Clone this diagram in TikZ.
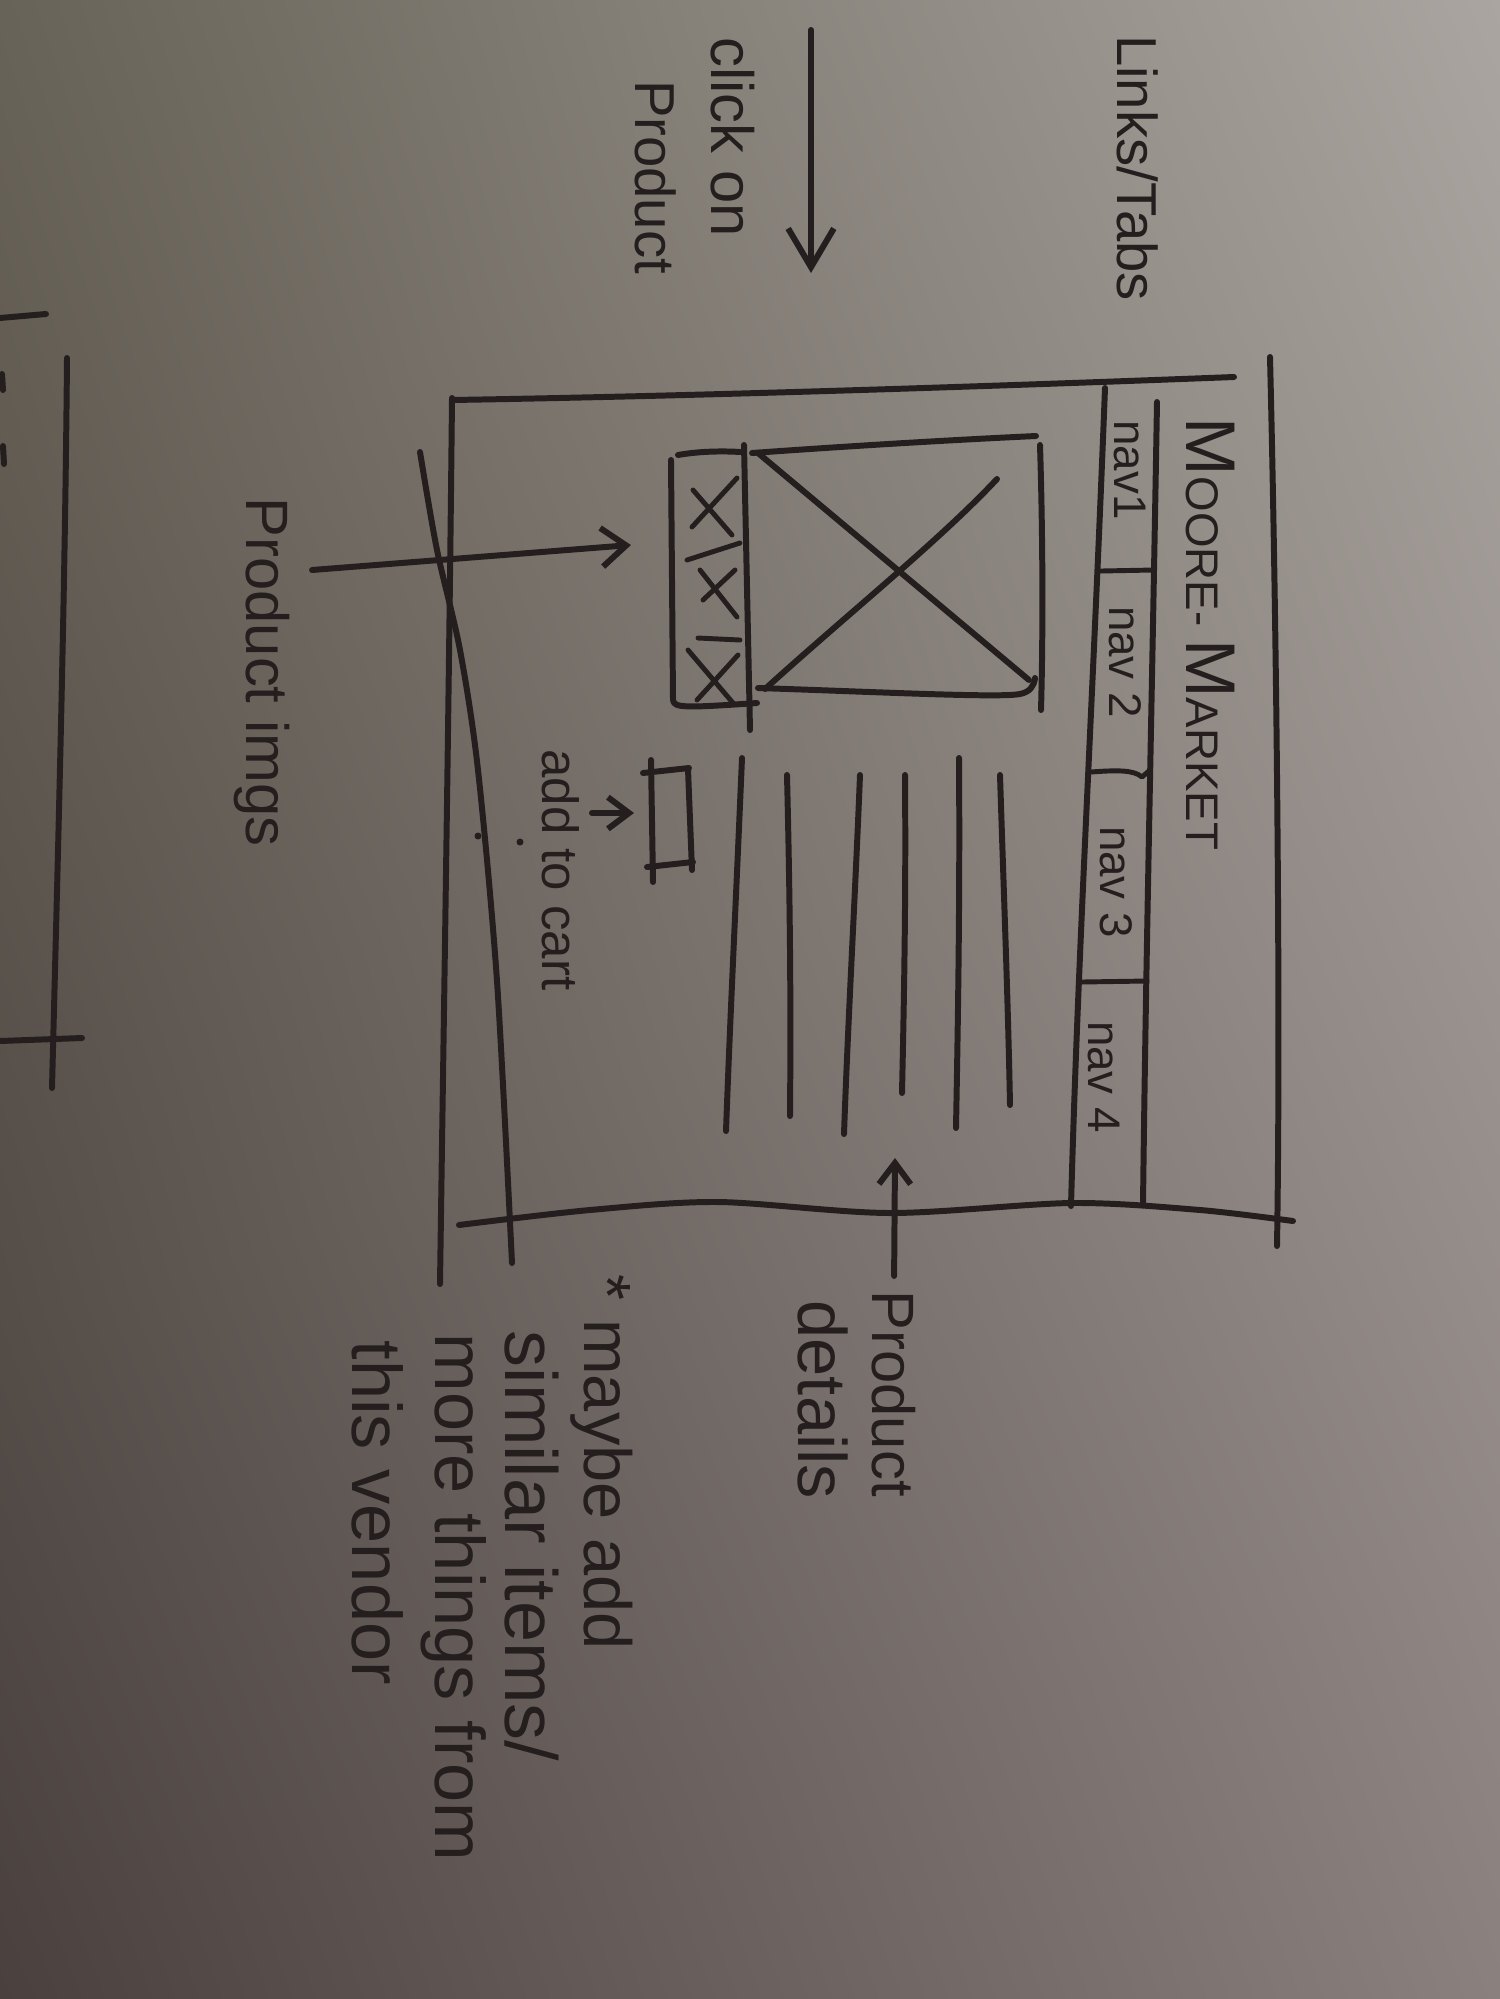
\documentclass[tikz,border=0pt]{standalone}
\usepackage{fontspec}
\setmainfont{Liberation Sans}
\usetikzlibrary{arrows.meta,shadings}
\definecolor{ink}{RGB}{36,30,30}
\definecolor{paperUL}{RGB}{104,99,88}
\definecolor{paperUR}{RGB}{170,165,160}
\definecolor{paperLR}{RGB}{138,128,126}
\definecolor{paperLL}{RGB}{74,65,63}
\newcommand{\setfs}[1]{\fontsize{#1}{#1}\selectfont}
\begin{document}
\begin{tikzpicture}[x=0.01cm,y=-0.01cm,
  pen/.style={draw=ink,line width=1.7pt,line cap=round,line join=round},
  fine/.style={pen,line width=1.4pt},
  hand/.style={text=ink,rotate=-90,inner sep=0pt},
  note/.style={hand,anchor=west},
  bigbarb/.style={-{Straight Barb[length=11pt,width=13pt]}},
  midbarb/.style={-{Straight Barb[length=7pt,width=11pt]}},
  smallbarb/.style={-{Straight Barb[length=6pt,width=9pt]}}
]
% paper
\useasboundingbox (0,0) rectangle (1500,1999);
\shade[upper left=paperUL,upper right=paperUR,lower left=paperLL,lower right=paperLR]
  (0,0) rectangle (1500,1999);

% ---- left margin: end of the previous page sketch
\draw[pen] (67,358) .. controls (65,600) and (58,850) .. (52,1088);
\draw[pen] (0,1041) -- (82,1038);
\draw[pen] (0,318) -- (46,314);
\draw[pen] (2,374) -- (3,390);
\draw[pen] (3,446) -- (4,464);

% ---- transition note
\node[hand,font=\setfs{16}] (links) at (1138,168) {Links/Tabs};
\node[hand,font=\setfs{17}] (click) at (733,137) {click on};
\node[hand,font=\setfs{16}] (clickprod) at (656,177) {Product};
\coordinate (clickfrom) at (811,30);
\coordinate (clickto) at (811,273);
\draw[pen,bigbarb] (clickfrom) -- (clickto);

% ---- page frame
\draw[pen] (1270,357) .. controls (1276,600) and (1281,1000) .. (1277,1246);
\draw[pen] (452,400) .. controls (700,396) and (1000,386) .. (1234,377);
\draw[pen] plot[smooth] coordinates {(459,1225) (590,1210) (718,1202) (890,1213) (1072,1203) (1200,1210) (1293,1221)};
\draw[pen] (452,398) .. controls (449,700) and (444,1000) .. (440,1284);
\draw[pen] plot[smooth] coordinates {(420,452) (437,550) (460,650) (478,770) (497,981) (512,1263)};

% ---- header and navigation bar
\draw[pen] (1157,402) .. controls (1152,700) and (1146,950) .. (1143,1205);
\draw[pen] (1105,388) .. controls (1093,700) and (1078,950) .. (1071,1206);
\draw[fine] (1101,571) -- (1154,570);
\draw[fine] (1091,772) .. controls (1118,770) and (1134,770) .. (1142,777) -- (1150,770);
\draw[fine] (1082,982) -- (1147,981);
\node[hand] (title) at (1210,634)
  {{\setfs{20}M}{\setfs{13}OORE- }{\setfs{20}M}{\setfs{13}ARKET}};
\node[hand,font=\setfs{13}] (nav1) at (1130,470) {nav1};
\node[hand,font=\setfs{13}] (nav2) at (1125,662) {nav 2};
\node[hand,font=\setfs{13}] (nav3) at (1116,882) {nav 3};
\node[hand,font=\setfs{13}] (nav4) at (1104,1077) {nav 4};

% ---- main product image placeholder
\draw[pen] (752,453) .. controls (850,446) and (950,440) .. (1036,436);
\draw[pen] (1040,445) .. controls (1043,540) and (1043,640) .. (1041,710);
\draw[pen] (758,688) .. controls (880,692) and (1000,698) .. (1020,694) .. controls (1030,692) and (1034,686) .. (1035,678);
\draw[pen] (744,445) -- (750,730);
\draw[pen] (758,453) -- (1029,680);
\draw[pen] (765,689) .. controls (850,612) and (940,540) .. (997,479);

% ---- thumbnail strip
\draw[pen] (678,455) .. controls (700,451) and (725,451) .. (740,452);
\draw[pen] (671,460) -- (673,700) .. controls (674,708) and (684,708) .. (757,703);
\draw[fine] (687,560) -- (740,543);
\draw[fine] (698,638) -- (740,640);
\draw[fine] (693,490) -- (732,535);
\draw[fine] (692,527) -- (737,478);
\draw[fine] (700,570) -- (737,617);
\draw[fine] (703,600) -- (735,570);
\draw[fine] (688,650) -- (733,703);
\draw[fine] (697,700) -- (738,655);
\coordinate (imgsfrom) at (312,570);
\coordinate (imgsto) at (631,545);
\draw[pen,midbarb] (imgsfrom) -- (imgsto);
\node[hand,font=\setfs{17}] (imgs) at (262,672) {Product imgs};

% ---- add to cart button
\draw[pen] (651,760) -- (653,882);
\draw[pen] (643,773) -- (689,768);
\draw[pen] (688,769) -- (692,870);
\draw[pen] (647,867) -- (693,862);
\coordinate (cartfrom) at (592,813);
\coordinate (cartto) at (634,813);
\draw[pen,smallbarb] (cartfrom) -- (cartto);
\node[hand,font=\setfs{14.5}] (cart) at (561,870) {add to cart};
\fill[ink] (478,836) circle (3.5);
\fill[ink] (520,842) circle (3.5);

% ---- product detail text lines
\draw[pen] (742,758) .. controls (736,900) and (730,1020) .. (726,1131);
\draw[pen] (787,775) .. controls (790,900) and (791,1000) .. (790,1116);
\draw[pen] (860,775) .. controls (855,900) and (848,1020) .. (844,1134);
\draw[pen] (905,775) .. controls (906,900) and (904,1000) .. (902,1093);
\draw[pen] (959,758) .. controls (960,900) and (958,1020) .. (956,1128);
\draw[pen] (1000,775) .. controls (1004,900) and (1008,1000) .. (1010,1105);

% ---- product details note
\node[note,font=\setfs{17}] (pd) at (894,1290) {Product};
\node[note,font=\setfs{19.5}] (pd2) at (823,1300) {details};
\coordinate (pdtip) at (895,1158);
\draw[pen,smallbarb,shorten <=4pt] (pd.west) -- (pdtip);

% ---- remark on further content
\node[note,font=\setfs{19}] (n1) at (602,1274) {* maybe add};
\node[note,font=\setfs{21}] (n2) at (532,1330) {similar items/};
\node[note,font=\setfs{20}] (n3) at (454,1333) {more things from};
\node[note,font=\setfs{20}] (n4) at (378,1340) {this vendor};
\end{tikzpicture}
\end{document}
